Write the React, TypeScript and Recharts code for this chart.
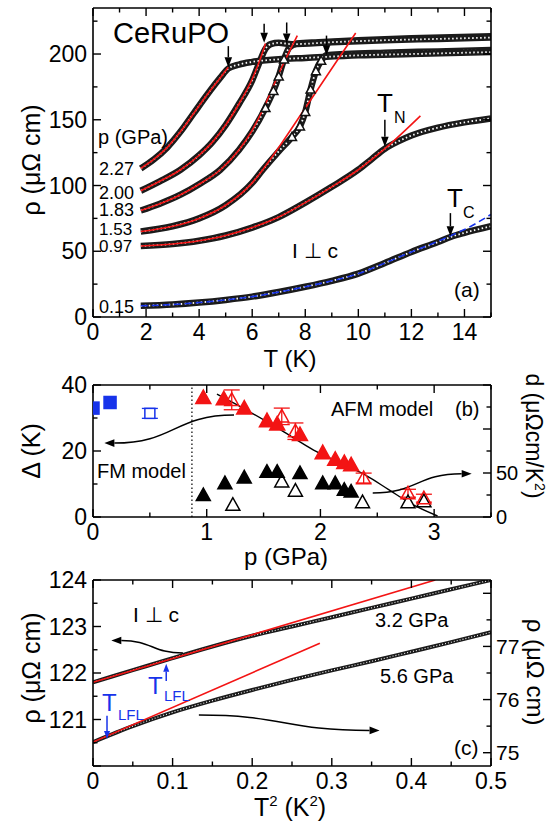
import React from 'react';
import {
  ComposedChart, Line, Scatter, XAxis, YAxis, ReferenceLine, ErrorBar,
} from 'recharts';

const FONT = '"Liberation Sans", Arial, Helvetica, sans-serif';
const W = 560;
const H = 825;
const RED = '#f31414';
const BLUE = '#1733ea';

// (a) resistivity vs T, one pair of arrays per pressure
const T227 = [1.8, 2.3, 2.8, 3.3, 3.8, 4.3, 4.8, 5.1, 5.5, 6, 7, 8, 10, 12, 15];
const R227 = [113, 120, 129, 141, 155, 169, 182, 189, 192, 194, 196, 197, 199, 200, 201.5];
const T227fit = [1.8, 2.3, 2.8, 3.3, 3.8, 4.3, 4.8, 5.1];
const R227fit = [113, 120, 129, 141, 155, 169, 182, 190];

const T200 = [1.8, 2.5, 3.3, 4, 4.5, 5, 5.5, 6, 6.3, 6.5, 6.7, 7, 7.5, 9, 11, 13, 15];
const R200 = [96, 103, 112, 123, 133, 146, 162, 180, 195, 204, 207.5, 208.5, 207.5, 209, 210.5, 211.5, 212.5];
const T200fit = [1.8, 2.5, 3.3, 4, 4.5, 5, 5.5, 6, 6.3, 6.5];
const R200fit = [96, 103, 112, 123, 133, 146, 162, 181, 196, 208];

const T183 = [1.8, 2.5, 3.3, 4, 4.8, 5.5, 6, 6.5, 6.8, 7, 7.2, 7.4, 7.7, 8.5, 10, 12, 15];
const R183 = [81, 86, 93, 101, 112, 127, 141, 159, 172, 183, 196, 205, 208, 209, 210.5, 212, 213.5];
const T183fit = [1.8, 2.5, 3.3, 4, 4.8, 5.5, 6, 6.5, 7, 7.7];
const R183fit = [81, 86, 93, 101, 112, 127, 142, 162, 185, 214];

const T153 = [1.8, 3, 4, 5, 6, 6.4, 7, 7.5, 7.8, 8, 8.2, 8.4, 8.6, 8.8, 9.5, 11, 13, 15];
const R153 = [65, 69, 75, 85, 102, 112, 126, 137, 145, 156, 173, 187, 195, 199, 200, 201, 202, 203];
const T153fit = [1.8, 3, 4, 5, 6, 6.4, 7, 8, 9, 9.9];
const R153fit = [65, 69, 75, 85, 102, 112, 129, 159, 189, 216];

const T097 = [1.8, 3, 4, 5, 6, 7, 8, 9, 10, 10.5, 11, 11.5, 12, 13, 14, 15];
const R097 = [54, 55.5, 58, 62, 68, 76, 87, 99, 112, 120, 128, 133.5, 138, 144, 148, 151];
const T097fit = [1.8, 3, 4, 5, 6, 7, 8, 9, 10, 11, 12.34];
const R097fit = [54, 55.5, 58, 62, 68, 76, 87, 99, 112, 128, 153];

const T015 = [1.8, 3, 4, 5, 6, 7, 8, 9, 10, 11, 12, 13, 13.5, 14, 15];
const R015 = [8.5, 9.5, 11, 13, 15.5, 19, 23, 27.5, 33, 41, 49.5, 57, 61, 64, 69];
const R015fit = [8.5, 9.5, 11, 13, 15.5, 19, 23, 27.5, 33, 41, 49.5, 57.5, 62, 66.5, 78];

// (b) gap and coefficient vs pressure
const pFmFilled = [0, 0.15];
const gFmFilled = [33, 34.7];
const pFmOpen = [0.5];
const gFmOpen = [31.4];
const eFmOpen = [1.5];
const pAfm = [0.97, 1.15, 1.33, 1.53, 1.62, 1.82, 2.02, 2.13, 2.21, 2.27];
const gAfm = [36.2, 35.8, 33, 29.2, 28.2, 25, 19.5, 17.5, 16.5, 15.8];
const pAfmOpen = [1.22, 1.66, 1.78, 2.38, 2.77, 2.91];
const gAfmOpen = [35.5, 30.5, 26, 11.8, 7.2, 5.7];
const eAfmOpen = [3, 2.5, 2.5, 1.5, 1.2, 1.2];
const pCoef = [0.97, 1.16, 1.33, 1.53, 1.62, 1.82, 2.02, 2.13, 2.21, 2.27];
const dCoef = [25, 38.5, 45, 51.5, 51.5, 50, 38.5, 38.5, 31, 29];
const pCoefOpen = [1.23, 1.66, 1.78, 2.37, 2.77, 2.91];
const dCoefOpen = [14, 40.5, 30, 17, 17, 18];
const pGapFit = [1.09, 1.35, 1.65, 1.94, 2.2, 2.4, 2.6, 2.8, 3.03];
const gGapFit = [37.2, 32.4, 26.4, 20.3, 16, 12.6, 8.3, 4, 0.3];

// (c) rho vs T^2
const T2a = [0, 0.05, 0.1, 0.15, 0.2, 0.25, 0.3, 0.35, 0.4, 0.45, 0.5];
const rho32 = [121.8, 122.06, 122.32, 122.57, 122.8, 123.0, 123.2, 123.4, 123.6, 123.8, 124.0];
const rho56 = [75.2, 75.5, 75.76, 75.98, 76.18, 76.37, 76.55, 76.72, 76.9, 77.08, 77.27];
const T2fit32 = [0, 0.43];
const rhoFit32 = [121.8, 124.0];
const T2fit56 = [0, 0.285];
const rhoFit56 = [75.2, 77.06];

type Pt = { x: number; y: number; e?: number };
const pts = (xs: number[], ys: number[], es?: number[]): Pt[] =>
  xs.map((x, i) => (es ? { x, y: ys[i], e: es[i] } : { x, y: ys[i] }));

const range = (a: number, b: number, step: number) => {
  const out: number[] = [];
  const n = Math.round((b - a) / step);
  for (let i = 0; i <= n; i++) out.push(Number((a + i * step).toFixed(4)));
  return out;
};

type Side = 'left' | 'right' | 'top' | 'bottom';

function tickFn(side: Side, majors: number[], label?: (v: number) => string | null, fs = 23) {
  return (props: any) => {
    const { x, y, payload } = props;
    const v: number = payload.value;
    const major = majors.some((m) => Math.abs(m - v) < 1e-6);
    const len = major ? 8 : 4.5;
    const txt = label ? label(v) : null;
    let x2 = x;
    let y2 = y;
    if (side === 'left') x2 = x + len;
    if (side === 'right') x2 = x - len;
    if (side === 'bottom') y2 = y - len;
    if (side === 'top') y2 = y + len;
    return (
      <g>
        <line x1={x} y1={y} x2={x2} y2={y2} stroke="#000" strokeWidth={1.4} />
        {txt !== null && (
          <text
            x={side === 'left' ? x - 6 : side === 'right' ? x + 5 : x}
            y={side === 'bottom' ? y + 23 : y + fs * 0.35}
            textAnchor={side === 'left' ? 'end' : side === 'right' ? 'start' : 'middle'}
            fontSize={fs}
            fontFamily={FONT}
            fill="#000"
          >
            {txt}
          </text>
        )}
      </g>
    );
  };
}

const axisBase = {
  tickSize: 0,
  tickMargin: 0,
  tickLine: false,
  interval: 0 as const,
  allowDataOverflow: true,
  type: 'number' as const,
  axisLine: { stroke: '#000', strokeWidth: 1.6 },
};

// chart margins so that the plot box lands on the given pixel edges (axes are 1px thick slots)
const boxMargin = (top: number, bottom: number, left = 93, right = 491) => ({
  top: top - 1,
  bottom: H - bottom - 1,
  left: left - 1,
  right: W - right - 1,
});

// arrow drawn between the two ends of a reference segment
const arrow = (color: string, curved = false, head = 10) => (p: any) => {
  const { x1, y1, x2, y2 } = p;
  if (![x1, y1, x2, y2].every((v) => typeof v === 'number' && isFinite(v))) return <g />;
  let dx: number;
  let dy: number;
  if (curved) {
    dx = Math.sign(x2 - x1);
    dy = 0;
  } else {
    const l = Math.hypot(x2 - x1, y2 - y1) || 1;
    dx = (x2 - x1) / l;
    dy = (y2 - y1) / l;
  }
  const bx = x2 - dx * head;
  const by = y2 - dy * head;
  const hw = head * 0.38;
  const poly = `${x2},${y2} ${bx - dy * hw},${by + dx * hw} ${bx + dy * hw},${by - dx * hw}`;
  const mx = (x1 + bx) / 2;
  const d = curved
    ? `M${x1},${y1} C${mx},${y1} ${mx},${by} ${bx},${by}`
    : `M${x1},${y1} L${bx},${by}`;
  return (
    <g>
      <path d={d} fill="none" stroke={color} strokeWidth={1.5} />
      <polygon points={poly} fill={color} />
    </g>
  );
};

const tri = (fill: string, stroke: string, s = 7.5) => (p: any) => {
  const { cx, cy } = p;
  return (
    <polygon
      points={`${cx},${cy - s} ${cx - s},${cy + s * 0.8} ${cx + s},${cy + s * 0.8}`}
      fill={fill}
      stroke={stroke}
      strokeWidth={1.5}
    />
  );
};

const square = (fill: string, stroke: string, s = 6) => (p: any) => {
  const { cx, cy } = p;
  return <rect x={cx - s} y={cy - s} width={2 * s} height={2 * s} fill={fill} stroke={stroke} strokeWidth={1.5} />;
};

function Band({ d, id, tri: triRange }: { d: Pt[]; id: string; tri?: [number, number] }) {
  return (
    <>
      <Line key={id + 'o'} data={d} dataKey="y" type="monotone" xAxisId="b" yAxisId="l"
        stroke="#1b1b1b" strokeWidth={6.5} dot={false} activeDot={false} isAnimationActive={false} />
      <Line key={id + 'i'} data={d} dataKey="y" type="monotone" xAxisId="b" yAxisId="l"
        stroke="#fff" strokeWidth={1.8} strokeDasharray="1.5 2.5" activeDot={false} isAnimationActive={false}
        dot={(p: any) => {
          const x = p.payload?.x;
          if (triRange && x >= triRange[0] && x <= triRange[1]) {
            return <g key={id + p.index}>{tri('#fff', '#111', 4.5)(p)}</g>;
          }
          return <g key={id + p.index} />;
        }} />
    </>
  );
}

const fitLine = (d: Pt[], color = RED, dash?: string) => (
  <Line data={d} dataKey="y" type="monotone" xAxisId="b" yAxisId="l" stroke={color}
    strokeWidth={1.6} strokeDasharray={dash} dot={false} activeDot={false} isAnimationActive={false} />
);

function PanelA() {
  const xt = range(0, 15, 1);
  const yt = range(0, 225, 25);
  const xMaj = [0, 2, 4, 6, 8, 10, 12, 14];
  const yMaj = [0, 50, 100, 150, 200];
  const arrows: [number, number, number][] = [
    [5.1, 206, 190], [6.45, 223, 208.5], [7.3, 224, 208], [8.8, 214, 199],
    [11.0, 150, 129.5], [13.47, 79, 61.5],
  ];
  return (
    <ComposedChart width={W} height={H} margin={boxMargin(8, 317)}>
      <XAxis xAxisId="b" dataKey="x" domain={[0, 15]} ticks={xt} height={1} {...axisBase}
        tick={tickFn('bottom', xMaj, (v) => (xMaj.includes(v) ? String(v) : null))} />
      <XAxis xAxisId="t" dataKey="x" orientation="top" domain={[0, 15]} ticks={xt} height={1} {...axisBase}
        tick={tickFn('top', xMaj)} />
      <YAxis yAxisId="l" dataKey="y" domain={[0, 235]} ticks={yt} width={1} {...axisBase}
        tick={tickFn('left', yMaj, (v) => (yMaj.includes(v) ? String(v) : null))} />
      <YAxis yAxisId="r" dataKey="y" orientation="right" domain={[0, 235]} ticks={yt} width={1} {...axisBase}
        tick={tickFn('right', yMaj)} />
      <Band id="a015" d={pts(T015, R015)} />
      <Band id="a097" d={pts(T097, R097)} />
      <Band id="a153" d={pts(T153, R153)} tri={[7.4, 8.7]} />
      <Band id="a183" d={pts(T183, R183)} tri={[6.4, 7.3]} />
      <Band id="a200" d={pts(T200, R200)} />
      <Band id="a227" d={pts(T227, R227)} />
      {fitLine(pts(T015, R015fit), BLUE, '7 4')}
      {fitLine(pts(T097fit, R097fit))}
      {fitLine(pts(T153fit, R153fit))}
      {fitLine(pts(T183fit, R183fit))}
      {fitLine(pts(T200fit, R200fit))}
      {fitLine(pts(T227fit, R227fit))}
      {arrows.map(([t, a, b], i) => (
        <ReferenceLine key={'ar' + i} xAxisId="b" yAxisId="l" ifOverflow="visible"
          segment={[{ x: t, y: a }, { x: t, y: b }]} shape={arrow('#000')} />
      ))}
    </ComposedChart>
  );
}

function PanelB() {
  const xt = range(0, 3.5, 0.5);
  const xMaj = [0, 1, 2, 3];
  const yt = range(0, 40, 10);
  const yMaj = [0, 20, 40];
  const rt = range(0, 150, 25);
  const rMaj = [0, 50, 100, 150];
  return (
    <ComposedChart width={W} height={H} margin={boxMargin(385, 517)}>
      <XAxis xAxisId="b" dataKey="x" domain={[0, 3.5]} ticks={xt} height={1} {...axisBase}
        tick={tickFn('bottom', xMaj, (v) => (xMaj.includes(v) ? String(v) : null))} />
      <XAxis xAxisId="t" dataKey="x" orientation="top" domain={[0, 3.5]} ticks={xt} height={1} {...axisBase}
        tick={tickFn('top', xMaj)} />
      <YAxis yAxisId="l" dataKey="y" domain={[0, 40]} ticks={yt} width={1} {...axisBase}
        tick={tickFn('left', yMaj, (v) => (yMaj.includes(v) ? String(v) : null))} />
      <YAxis yAxisId="r" dataKey="y" orientation="right" domain={[0, 150]} ticks={rt} width={1} {...axisBase}
        tick={tickFn('right', rMaj, (v) => (v === 0 || v === 50 ? String(v) : null), 20)} />
      <ReferenceLine xAxisId="b" yAxisId="l" x={0.87} stroke="#000" strokeWidth={1.2} strokeDasharray="1.5 2.5" />
      <Line data={pts(pGapFit, gGapFit)} dataKey="y" type="monotone" xAxisId="b" yAxisId="l"
        stroke="#000" strokeWidth={1.4} dot={false} activeDot={false} isAnimationActive={false} />
      <Scatter data={pts(pFmFilled, gFmFilled)} xAxisId="b" yAxisId="l" dataKey="y"
        shape={square(BLUE, BLUE, 6)} isAnimationActive={false} />
      <Scatter data={pts(pFmOpen, gFmOpen, eFmOpen)} xAxisId="b" yAxisId="l" dataKey="y"
        shape={square('#fff', BLUE, 5)} isAnimationActive={false}>
        <ErrorBar dataKey="e" direction="y" width={8} stroke={BLUE} strokeWidth={1.3} />
      </Scatter>
      <Scatter data={pts(pCoefOpen, dCoefOpen)} xAxisId="b" yAxisId="r" dataKey="y"
        shape={tri('#fff', '#000', 7)} isAnimationActive={false} />
      <Scatter data={pts(pCoef, dCoef)} xAxisId="b" yAxisId="r" dataKey="y"
        shape={tri('#000', '#000', 7)} isAnimationActive={false} />
      <Scatter data={pts(pAfmOpen, gAfmOpen, eAfmOpen)} xAxisId="b" yAxisId="l" dataKey="y"
        shape={tri('none', RED, 7)} isAnimationActive={false}>
        <ErrorBar dataKey="e" direction="y" width={8} stroke={RED} strokeWidth={1.3} />
      </Scatter>
      <Scatter data={pts(pAfm, gAfm)} xAxisId="b" yAxisId="l" dataKey="y"
        shape={tri(RED, RED, 7.5)} isAnimationActive={false} />
      <ReferenceLine xAxisId="b" yAxisId="l" ifOverflow="visible"
        segment={[{ x: 1.24, y: 30.9 }, { x: 0.1, y: 22.4 }]} shape={arrow('#000', true)} />
      <ReferenceLine xAxisId="b" yAxisId="l" ifOverflow="visible"
        segment={[{ x: 2.46, y: 7.3 }, { x: 3.33, y: 13.1 }]} shape={arrow('#000', true)} />
    </ComposedChart>
  );
}

function PanelC() {
  const xt = range(0, 0.5, 0.05);
  const xMaj = [0, 0.1, 0.2, 0.3, 0.4, 0.5];
  const yt = range(120, 124, 0.5);
  const yMaj = [120, 121, 122, 123, 124];
  const rt = range(75, 78, 0.5);
  const rMaj = [75, 76, 77, 78];
  const fx = (v: number) => (xMaj.some((m) => Math.abs(m - v) < 1e-6) ? (v === 0 ? '0' : v.toFixed(1)) : null);
  return (
    <ComposedChart width={W} height={H} margin={boxMargin(580, 766)}>
      <XAxis xAxisId="b" dataKey="x" domain={[0, 0.5]} ticks={xt} height={1} {...axisBase}
        tick={tickFn('bottom', xMaj, fx)} />
      <XAxis xAxisId="t" dataKey="x" orientation="top" domain={[0, 0.5]} ticks={xt} height={1} {...axisBase}
        tick={tickFn('top', xMaj)} />
      <YAxis yAxisId="l" dataKey="y" domain={[120, 124]} ticks={yt} width={1} {...axisBase}
        tick={tickFn('left', yMaj, (v) => (v >= 121 && yMaj.includes(v) ? String(v) : null))} />
      <YAxis yAxisId="r" dataKey="y" orientation="right" domain={[74.75, 78.25]} ticks={rt} width={1} {...axisBase}
        tick={tickFn('right', rMaj, (v) => (v <= 77 && rMaj.includes(v) ? String(v) : null), 21)} />
      <Line data={pts(T2a, rho32)} dataKey="y" type="monotone" xAxisId="b" yAxisId="l"
        stroke="#1b1b1b" strokeWidth={4} dot={false} activeDot={false} isAnimationActive={false} />
      <Line data={pts(T2a, rho32)} dataKey="y" type="monotone" xAxisId="b" yAxisId="l"
        stroke="#fff" strokeWidth={1.1} strokeDasharray="1 2" dot={false} activeDot={false} isAnimationActive={false} />
      <Line data={pts(T2a, rho56)} dataKey="y" type="monotone" xAxisId="b" yAxisId="r"
        stroke="#1b1b1b" strokeWidth={4} dot={false} activeDot={false} isAnimationActive={false} />
      <Line data={pts(T2a, rho56)} dataKey="y" type="monotone" xAxisId="b" yAxisId="r"
        stroke="#fff" strokeWidth={1.1} strokeDasharray="1 2" dot={false} activeDot={false} isAnimationActive={false} />
      <Line data={pts(T2fit32, rhoFit32)} dataKey="y" type="linear" xAxisId="b" yAxisId="l"
        stroke={RED} strokeWidth={1.6} dot={false} activeDot={false} isAnimationActive={false} />
      <Line data={pts(T2fit56, rhoFit56)} dataKey="y" type="linear" xAxisId="b" yAxisId="r"
        stroke={RED} strokeWidth={1.6} dot={false} activeDot={false} isAnimationActive={false} />
      <ReferenceLine xAxisId="b" yAxisId="l" ifOverflow="visible"
        segment={[{ x: 0.113, y: 122.43 }, { x: 0.023, y: 122.7 }]} shape={arrow('#000', true)} />
      <ReferenceLine xAxisId="b" yAxisId="r" ifOverflow="visible"
        segment={[{ x: 0.133, y: 75.71 }, { x: 0.36, y: 75.42 }]} shape={arrow('#000', true)} />
      <ReferenceLine xAxisId="b" yAxisId="l" ifOverflow="visible"
        segment={[{ x: 0.092, y: 121.83 }, { x: 0.092, y: 122.2 }]} shape={arrow(BLUE, false, 8)} />
      <ReferenceLine xAxisId="b" yAxisId="l" ifOverflow="visible"
        segment={[{ x: 0.0176, y: 121.08 }, { x: 0.0176, y: 120.58 }]} shape={arrow(BLUE, false, 8)} />
    </ComposedChart>
  );
}

const T = (props: React.SVGProps<SVGTextElement>) => (
  <text fontFamily={FONT} fill="#000" {...props} />
);

function Labels() {
  return (
    <svg width={W} height={H} style={{ position: 'absolute', left: 0, top: 0, pointerEvents: 'none' }}>
      {/* panel (a) */}
      <T x={113} y={43} fontSize={29}>CeRuPO</T>
      <T x={98} y={144} fontSize={20}>p (GPa)</T>
      <T x={99} y={175} fontSize={18}>2.27</T>
      <T x={99} y={199} fontSize={18}>2.00</T>
      <T x={99} y={216} fontSize={18}>1.83</T>
      <T x={99} y={235} fontSize={17}>1.53</T>
      <T x={99} y={252} fontSize={17}>0.97</T>
      <T x={99} y={313} fontSize={18}>0.15</T>
      <T x={377} y={112} fontSize={26}>T</T>
      <T x={394} y={123} fontSize={16}>N</T>
      <T x={447} y={207} fontSize={26}>T</T>
      <T x={463} y={218} fontSize={16}>C</T>
      <T x={292} y={258} fontSize={21}>I ⊥ c</T>
      <T x={454} y={297} fontSize={21}>(a)</T>
      <T x={290} y={367} fontSize={24} textAnchor="middle">T (K)</T>
      <T x={0} y={0} fontSize={25} textAnchor="middle" transform="translate(40,160) rotate(-90)">ρ (μΩ cm)</T>
      {/* panel (b) */}
      <T x={331} y={416} fontSize={20}>AFM model</T>
      <T x={455} y={416} fontSize={20}>(b)</T>
      <T x={97} y={478} fontSize={20}>FM model</T>
      <T x={286} y={565} fontSize={24} textAnchor="middle">p (GPa)</T>
      <T x={0} y={0} fontSize={25} textAnchor="middle" transform="translate(40,451) rotate(-90)">Δ (K)</T>
      <T x={0} y={0} fontSize={23} textAnchor="middle" transform="translate(526,436) rotate(90)">
        d (μΩcm/K<tspan fontSize={14} dy={-9}>2</tspan><tspan dy={9}>)</tspan>
      </T>
      {/* panel (c) */}
      <T x={133} y={622} fontSize={21}>I ⊥ c</T>
      <T x={375} y={627} fontSize={20}>3.2 GPa</T>
      <T x={380} y={683} fontSize={20}>5.6 GPa</T>
      <T x={454} y={755} fontSize={21}>(c)</T>
      <T x={148} y={694} fontSize={24} fill={BLUE}>T</T>
      <T x={164} y={701} fontSize={15} fill={BLUE}>LFL</T>
      <T x={102} y={711} fontSize={24} fill={BLUE}>T</T>
      <T x={118} y={720} fontSize={15} fill={BLUE}>LFL</T>
      <T x={290} y={816} fontSize={25} textAnchor="middle">
        T<tspan fontSize={15} dy={-10}>2</tspan><tspan dy={10}> (K</tspan><tspan fontSize={15} dy={-10}>2</tspan><tspan dy={10}>)</tspan>
      </T>
      <T x={0} y={0} fontSize={25} textAnchor="middle" transform="translate(40,668) rotate(-90)">ρ (μΩ cm)</T>
      <T x={0} y={0} fontSize={24} textAnchor="middle" transform="translate(527,672) rotate(90)">ρ (μΩ cm)</T>
    </svg>
  );
}

export default function App() {
  const layer: React.CSSProperties = { position: 'absolute', left: 0, top: 0 };
  return (
    <div style={{ position: 'absolute', left: 0, top: 0, width: W, height: H, background: '#fff', fontFamily: FONT }}>
      <div style={layer}><PanelA /></div>
      <div style={layer}><PanelB /></div>
      <div style={layer}><PanelC /></div>
      <Labels />
    </div>
  );
}
